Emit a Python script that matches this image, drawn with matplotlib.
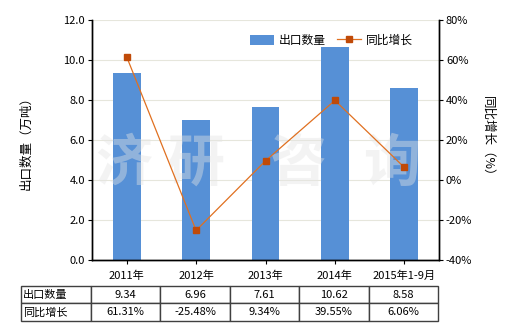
import matplotlib
matplotlib.use('Agg')
import matplotlib.pyplot as plt
import numpy as np

plt.rcParams['font.family'] = ['Noto Sans CJK SC', 'DejaVu Sans']
plt.rcParams['font.size'] = 8

years = ['2011年', '2012年', '2013年', '2014年', '2015年1-9月']
export_qty = [9.34, 6.96, 7.61, 10.62, 8.58]
growth = [61.31, -25.48, 9.34, 39.55, 6.06]
qty_labels = ['9.34', '6.96', '7.61', '10.62', '8.58']
growth_labels = ['61.31%', '-25.48%', '9.34%', '39.55%', '6.06%']

bar_color = '#5690d6'
line_color = '#e07020'
marker_color = '#c04a08'

fig = plt.figure(figsize=(5.2, 3.3), dpi=100)
ax = fig.add_axes([92/520, 1-259.5/330, 347/520, 240/330])
ax2 = ax.twinx()

x = np.arange(len(years))
ax.bar(x, export_qty, width=0.4, color=bar_color, zorder=2, label='出口数量')
ax.set_xlim(-0.5, len(years)-0.5)
ax.set_ylim(0, 12)
ax.set_yticks(np.arange(0, 12.1, 2))
ax.set_yticklabels(['%.1f' % v for v in np.arange(0, 12.1, 2)])
ax.grid(axis='y', color='#e6e6dc', linewidth=0.8, zorder=0)
ax.set_axisbelow(True)
ax.set_xticks(x)
ax.set_xticklabels(years)
ax.tick_params(axis='x', length=3, pad=5)
ax.tick_params(axis='y', length=3, pad=2)
ax.set_ylabel('出口数量（万吨）', labelpad=22, fontsize=9)

# watermark
for ch, cx in zip('济研咨询', [124, 196, 298, 392]):
    ax.text((cx-92)/347, (259.5-164)/240, ch, transform=ax.transAxes,
            fontsize=41, fontweight='bold', color='#e4e4e4', alpha=0.42,
            ha='center', va='center', zorder=3)

ax2.plot(x, growth, color=line_color, linewidth=0.9, marker='s', markersize=4,
         markerfacecolor=marker_color, markeredgecolor=marker_color, label='同比增长', zorder=3)
ax2.set_ylim(-40, 80)
ax2.set_yticks(np.arange(-40, 81, 20))
ax2.set_yticklabels(['%d%%' % v for v in np.arange(-40, 81, 20)])
ax2.tick_params(axis='y', length=3, pad=2)
ax2.set_ylabel('同比增长（%）', rotation=-90, labelpad=16, fontsize=9)

for a in (ax, ax2):
    a.spines['top'].set_visible(False)
    for s in ('left', 'right', 'bottom'):
        a.spines[s].set_linewidth(1.0)

h1, l1 = ax.get_legend_handles_labels()
h2, l2 = ax2.get_legend_handles_labels()
ax2.legend(h1 + h2, l1 + l2, loc='upper right', bbox_to_anchor=(0.955, 0.985), ncol=2,
           frameon=False, handlelength=2.0, handleheight=0.9, columnspacing=1.0,
           handletextpad=0.4, fontsize=8.5)

# table
cell_text = [['出口数量'] + qty_labels, ['同比增长'] + growth_labels]
tb = ax.table(cellText=cell_text, cellLoc='center',
              bbox=[(20.7-92)/347, (259.5-321)/240, (438-20.7)/347, (321-285.7)/240],
              colWidths=[70] + [69.4]*5)
tb.auto_set_font_size(False)
for (r, c), cell in tb.get_celld().items():
    cell.set_edgecolor('#404040')
    cell.set_linewidth(1.0)
    cell.get_text().set_fontsize(8)
    if c == 0:
        cell.get_text().set_horizontalalignment('left')
        cell.PAD = 0.03

fig.savefig('out.png', dpi=100)
